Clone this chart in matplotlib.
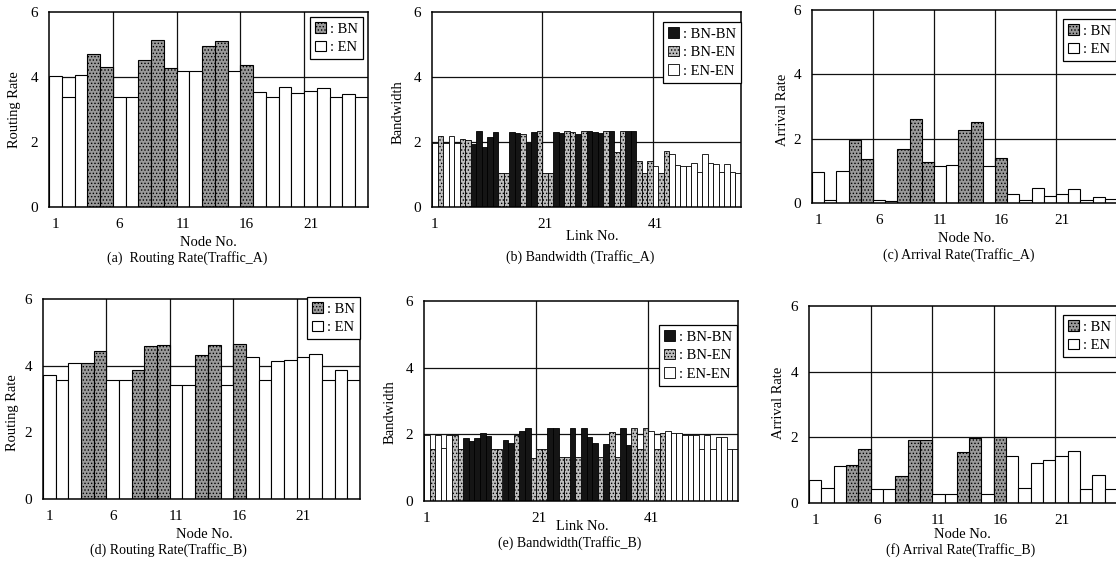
import matplotlib
matplotlib.use('Agg')
import matplotlib.pyplot as plt
from matplotlib.patches import Patch
import numpy as np

plt.rcParams['font.family'] = ['Liberation Serif', 'DejaVu Serif']
plt.rcParams['hatch.linewidth'] = 0.6

# ---------------- data ----------------
nodes = list(range(1, 26))
node_type = ['EN', 'EN', 'EN', 'BN', 'BN', 'EN', 'EN', 'BN', 'BN', 'BN',
             'EN', 'EN', 'BN', 'BN', 'EN', 'BN', 'EN', 'EN', 'EN', 'EN',
             'EN', 'EN', 'EN', 'EN', 'EN']
node_ticks = [1, 6, 11, 16, 21]

routing_A = [4.02, 3.40, 4.07, 4.72, 4.31, 3.38, 3.38, 4.53, 5.15, 4.28,
             4.18, 4.18, 4.94, 5.10, 4.20, 4.36, 3.54, 3.40, 3.69, 3.50,
             3.57, 3.67, 3.40, 3.49, 3.38]
arrival_A = [0.95, 0.10, 1.00, 1.96, 1.37, 0.08, 0.05, 1.68, 2.62, 1.29,
             1.16, 1.17, 2.27, 2.53, 1.16, 1.40, 0.28, 0.10, 0.47, 0.23,
             0.29, 0.43, 0.10, 0.20, 0.12]
routing_B = [3.73, 3.58, 4.08, 4.08, 4.43, 3.58, 3.58, 3.86, 4.60, 4.62,
             3.43, 3.43, 4.33, 4.63, 3.43, 4.65, 4.26, 3.56, 4.13, 4.18,
             4.25, 4.36, 3.58, 3.88, 3.58]
arrival_B = [0.69, 0.46, 1.12, 1.15, 1.63, 0.44, 0.44, 0.81, 1.91, 1.93,
             0.28, 0.28, 1.55, 1.98, 0.28, 2.01, 1.42, 0.47, 1.23, 1.30,
             1.42, 1.58, 0.44, 0.86, 0.44]

links = list(range(1, 57))
link_type = ['EN-EN', 'BN-EN', 'EN-EN', 'EN-EN', 'EN-EN', 'BN-EN', 'BN-EN', 'BN-BN', 'BN-BN', 'BN-BN',
             'BN-BN', 'BN-BN', 'BN-EN', 'BN-EN', 'BN-BN', 'BN-BN', 'BN-EN', 'BN-BN', 'BN-BN', 'BN-EN',
             'BN-EN', 'BN-EN', 'BN-BN', 'BN-BN', 'BN-EN', 'BN-EN', 'BN-BN', 'BN-EN', 'BN-BN', 'BN-BN',
             'BN-BN', 'BN-EN', 'BN-BN', 'BN-EN', 'BN-EN', 'BN-BN', 'BN-BN', 'BN-EN', 'BN-EN', 'BN-EN',
             'EN-EN', 'BN-EN', 'BN-EN', 'EN-EN', 'EN-EN', 'EN-EN', 'EN-EN', 'EN-EN', 'EN-EN', 'EN-EN',
             'EN-EN', 'EN-EN', 'EN-EN', 'EN-EN', 'EN-EN', 'EN-EN']
link_ticks = [1, 21, 41]

bandwidth_A = [1.98, 2.20, 1.98, 2.20, 1.98, 2.10, 2.05, 1.95, 2.35, 1.85,
               2.15, 2.30, 1.05, 1.05, 2.30, 2.28, 2.25, 1.97, 2.30, 2.35,
               1.05, 1.05, 2.30, 2.28, 2.35, 2.30, 2.25, 2.33, 2.33, 2.30,
               2.28, 2.33, 2.33, 1.70, 2.33, 2.33, 2.33, 1.42, 1.05, 1.42,
               1.27, 1.05, 1.72, 1.63, 1.28, 1.27, 1.27, 1.35, 1.07, 1.62,
               1.35, 1.33, 1.07, 1.33, 1.07, 1.05]
bandwidth_B = [1.98, 1.55, 1.98, 1.58, 1.98, 1.98, 1.55, 1.90, 1.80, 1.90,
               2.05, 1.95, 1.55, 1.55, 1.83, 1.75, 1.98, 2.10, 2.18, 1.30,
               1.55, 1.55, 2.18, 2.18, 1.33, 1.33, 2.18, 1.33, 2.18, 1.93,
               1.75, 1.33, 1.71, 2.08, 1.33, 2.18, 1.68, 2.18, 1.55, 2.18,
               2.11, 1.55, 2.05, 2.10, 2.05, 2.03, 1.98, 1.98, 1.98, 1.55,
               1.97, 1.55, 1.93, 1.92, 1.55, 1.55]

y_ticks = [0, 2, 4, 6]

# ---------------- styles ----------------
node_style = {
    'BN': dict(facecolor='#9a9a9a', edgecolor='black', hatch='.....', linewidth=0.8),
    'EN': dict(facecolor='white', edgecolor='black', linewidth=0.8),
}
link_style = {
    'BN-BN': dict(facecolor='#151515', edgecolor='black', linewidth=0.6),
    'BN-EN': dict(facecolor='#bdbdbd', edgecolor='black', hatch='.....', linewidth=0.6),
    'EN-EN': dict(facecolor='white', edgecolor='black', linewidth=0.6),
}

W, H = 1116, 564
fig = plt.figure(figsize=(W / 100, H / 100), dpi=100)
FS = 10.5


def rect(L, R, T, B):
    return [L / W, 1 - B / H, (R - L) / W, (B - T) / H]


def ftext(x, y, s, fs=FS, **kw):
    fig.text(x / W, 1 - y / H, s, ha='center', va='center', fontsize=fs, **kw)


def base_axes(box, xlim, vgrid, xticks):
    ax = fig.add_axes(rect(*box))
    ax.set_xlim(*xlim)
    ax.set_ylim(0, 6)
    ax.set_xticks(xticks)
    ax.set_yticks(y_ticks)
    ax.tick_params(length=0, labelsize=FS + 0.5, pad=8)
    for v in vgrid:
        ax.axvline(v, color='#111111', lw=0.9, zorder=1)
    for v in (2, 4):
        ax.axhline(v, color='#111111', lw=0.9, zorder=1)
    for s in ax.spines.values():
        s.set_linewidth(1.1)
        s.set_zorder(5)
    return ax


def add_legend(ax, styles, labels, anchor):
    handles = [Patch(**styles[k]) for k in labels]
    leg = ax.legend(handles, [': ' + k for k in labels], loc='upper right',
                    bbox_to_anchor=anchor, borderaxespad=0, frameon=True,
                    fancybox=False, edgecolor='black', framealpha=1,
                    handlelength=0.75, handleheight=0.75, handletextpad=0.25,
                    borderpad=0.35, labelspacing=0.35, fontsize=FS)
    leg.get_frame().set_linewidth(0.9)
    leg.set_zorder(10)


def node_chart(box, values, ylabel, ylab_xy, xlab_xy, caption, cap_xy, leg_px):
    ax = base_axes(box, (0.5, 25.5), (5.5, 10.5, 15.5, 20.5), node_ticks)
    x = np.array(nodes)
    v = np.array(values)
    for t in ('BN', 'EN'):
        m = np.array([tt == t for tt in node_type])
        ax.bar(x[m], v[m], width=1.0, zorder=3, **node_style[t])
    L, R, T, B = box
    add_legend(ax, node_style, ['BN', 'EN'],
               ((leg_px[0] - L) / (R - L), 1 - (leg_px[1] - T) / (B - T)))
    ftext(*ylab_xy, ylabel, rotation=90)
    ftext(*xlab_xy, 'Node No.')
    ftext(*cap_xy, caption, fs=10)
    return ax


def link_chart(box, values, ylab_xy, xlab_xy, caption, cap_xy, leg_px):
    ax = base_axes(box, (0.5, 56.5), (20.5, 40.5), link_ticks)
    x = np.array(links)
    v = np.array(values)
    for t in ('BN-BN', 'BN-EN', 'EN-EN'):
        m = np.array([tt == t for tt in link_type])
        ax.bar(x[m], v[m], width=1.0, zorder=3, **link_style[t])
    L, R, T, B = box
    add_legend(ax, link_style, ['BN-BN', 'BN-EN', 'EN-EN'],
               ((leg_px[0] - L) / (R - L), 1 - (leg_px[1] - T) / (B - T)))
    ftext(*ylab_xy, 'Bandwidth', rotation=90)
    ftext(*xlab_xy, 'Link No.')
    ftext(*cap_xy, caption, fs=10)
    return ax


node_chart((49, 368, 12, 207), routing_A, 'Routing Rate', (15, 110), (208, 242),
           '(a)  Routing Rate(Traffic_A)', (187, 258), (363, 17))
link_chart((432, 741, 12, 207), bandwidth_A, (398, 112), (592, 237),
           '(b) Bandwidth (Traffic_A)', (580, 257), (741, 22))
node_chart((812, 1117, 10, 203), arrival_A, 'Arrival Rate', (782, 110), (966, 238),
           '(c) Arrival Rate(Traffic_A)', (959, 255), (1116, 19))
node_chart((43, 360, 299, 499), routing_B, 'Routing Rate', (13, 413), (204, 535),
           '(d) Routing Rate(Traffic_B)', (168, 550), (360, 297))
link_chart((424, 738, 301, 501), bandwidth_B, (390, 412), (582, 527),
           '(e) Bandwidth(Traffic_B)', (570, 543), (737, 325))
node_chart((809, 1117, 306, 503), arrival_B, 'Arrival Rate', (778, 403), (962, 535),
           '(f) Arrival Rate(Traffic_B)', (961, 550), (1116, 315))

fig.savefig('out.png', dpi=100)
